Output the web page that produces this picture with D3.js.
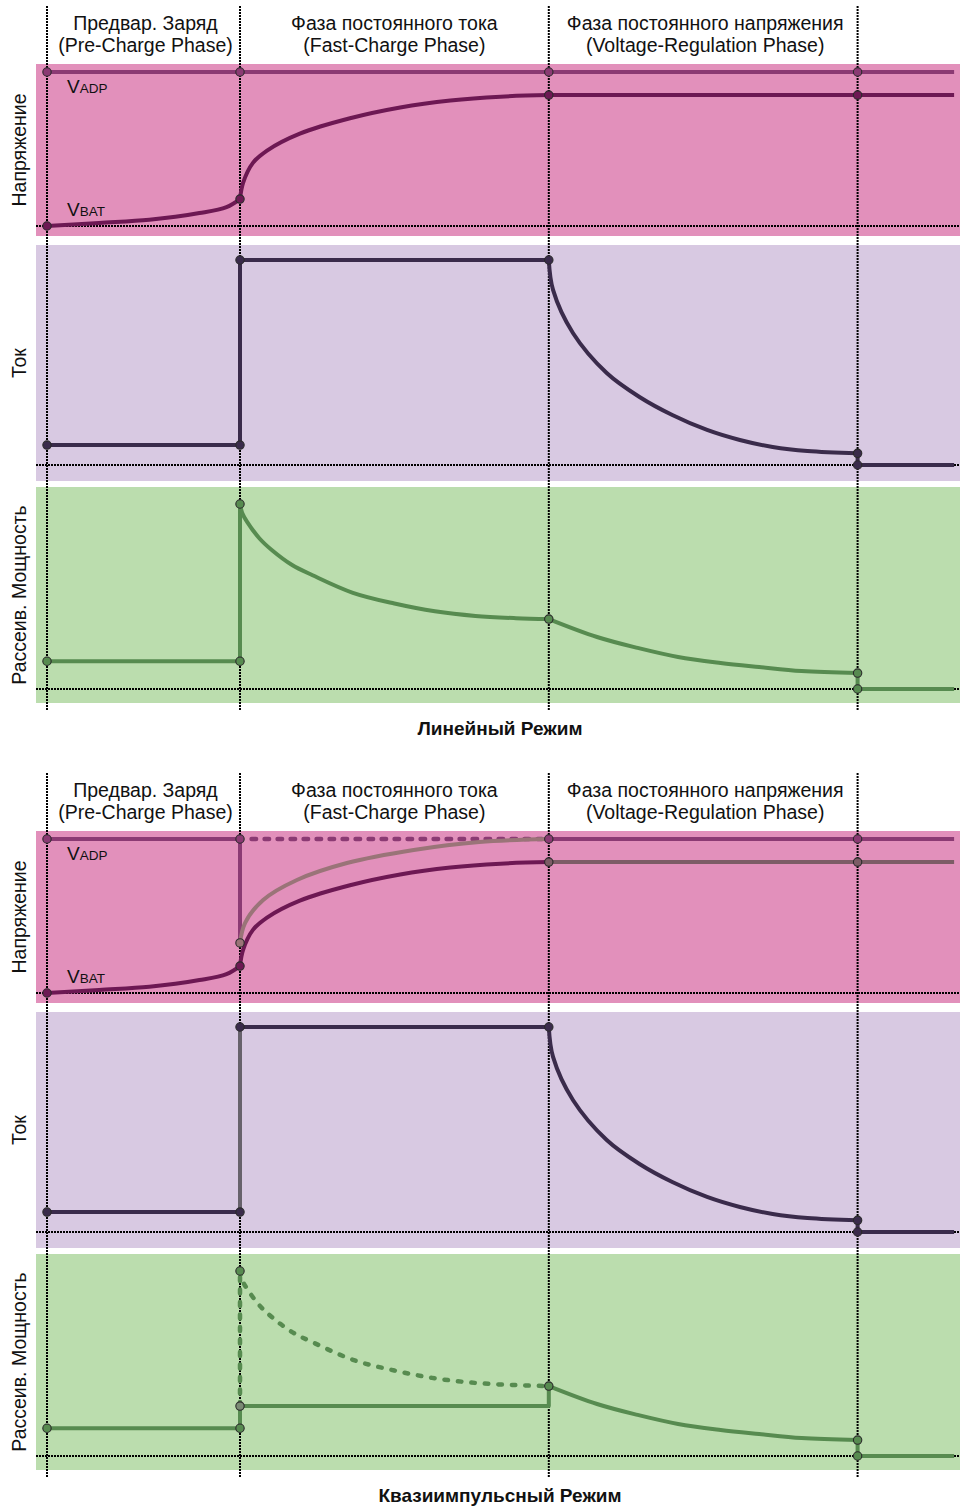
<!DOCTYPE html>
<html><head><meta charset="utf-8">
<script src="https://cdn.jsdelivr.net/npm/d3@7"></script>
<style>body{margin:0;background:#fff}svg{display:block;font-family:"Liberation Sans",Arial,sans-serif}</style>
</head><body>
<svg id="c" width="960" height="1508"></svg>
<script>
// ---------- DATA ----------
const phaseT = [0, 1, 2.6, 4.2];
const tEnd = 4.7;
const phaseTitles = [["Предвар. Заряд","(Pre-Charge Phase)"],["Фаза постоянного тока","(Fast-Charge Phase)"],["Фаза постоянного напряжения","(Voltage-Regulation Phase)"]];
const panelLabels = ["Напряжение","Ток","Рассеив. Мощность"];
const modeTitles = ["Линейный Режим","Квазиимпульсный Режим"];
// voltage (0 = baseline, 1 = VADP)
const vAdp = 1.0;
const vbatPre = [[0,0],[0.27,0.02],[0.53,0.04],[0.79,0.084],[0.93,0.123],[1,0.175]];
const vbatFast = [[1,0.175],[1.016,0.28],[1.067,0.41],[1.14,0.49],[1.31,0.6],[1.57,0.70],[1.83,0.77],[2.09,0.815],[2.35,0.84],[2.6,0.85]];
const vbatHold = 0.85;
const vSwitchCurve = [[1,0.325],[1.026,0.454],[1.12,0.604],[1.295,0.734],[1.554,0.844],[1.9,0.929],[2.24,0.981],[2.6,1.0]];
// current
const iPre = 0.097, iFast = 1.0, iEnd = 0.057;
const iDecay = [[2.6,1],[2.622,0.854],[2.725,0.644],[2.9,0.449],[3.07,0.332],[3.24,0.244],[3.42,0.171],[3.59,0.122],[3.76,0.088],[3.94,0.068],[4.2,0.057]];
// power
const pPre = 0.15, pPulse = 0.27;
const pDecayFast = [[1,1],[1.012,0.95],[1.036,0.905],[1.1,0.815],[1.166,0.75],[1.27,0.67],[1.376,0.615],[1.585,0.52],[1.8,0.462],[2.01,0.42],[2.22,0.395],[2.43,0.383],[2.6,0.378]];
const pDecayCV = [[2.6,0.378],[2.85,0.281],[3.06,0.222],[3.27,0.173],[3.49,0.141],[3.69,0.119],[3.91,0.097],[4.2,0.086]];

// ---------- STYLE ----------
const C = {pink:"#e290bb", lav:"#d8c9e2", green:"#bbddae", adp:"#8b3a73", bat:"#6d1853",
  cur:"#3a2b4b", pow:"#578b50", sw:"#9a7478", swHold:"#7d5c66", curGray:"#67626b"};
const LW = 4;
const svg = d3.select("#c");
const x = d3.scaleLinear().domain([0, 1]).range([47, 240]);
const line = d3.line().x(d=>x(d[0])).curve(d3.curveCatmullRom.alpha(0.5));

function drawChart(off, quasi){
  const yV = d3.scaleLinear().domain([0,1]).range([226+off, 72+off]);
  const yI = d3.scaleLinear().domain([0,1]).range([465+off, 260+off]);
  const yP = d3.scaleLinear().domain([0,1]).range([689+off, 504+off]);
  const g = svg.append("g");
  [[64,236,C.pink],[245,481,C.lav],[487,703,C.green]].forEach(b=>{
    g.append("rect").attr("x",36).attr("y",b[0]+off).attr("width",924).attr("height",b[1]-b[0]).attr("fill",b[2]);
  });
  [yV, yI, yP].forEach(s=>{
    g.append("line").attr("x1",36).attr("x2",960).attr("y1",s(0)).attr("y2",s(0))
      .attr("stroke","#000").attr("stroke-width",2).attr("stroke-dasharray","2 1");
  });
  phaseT.forEach(t=>{
    g.append("line").attr("x1",x(t)).attr("x2",x(t)).attr("y1",6+off).attr("y2",710+off)
      .attr("stroke","#000").attr("stroke-width",2).attr("stroke-dasharray","2 1");
  });
  phaseTitles.forEach((tt,i)=>{
    const cx = (x(phaseT[i])+x(phaseT[i+1]))/2 + (i===1?0:2);
    tt.forEach((s,j)=>g.append("text").attr("x",cx).attr("y",30+22*j+off).attr("text-anchor","middle")
      .attr("font-size",19.5).attr("fill","#111").text(s));
  });
  [150,363,595].forEach((c,i)=>{
    g.append("text").attr("transform",`translate(26,${c+off}) rotate(-90)`).attr("text-anchor","middle")
      .attr("font-size",19.5).attr("fill","#111").text(panelLabels[i]);
  });
  g.append("text").attr("x",500).attr("y",735+off).attr("text-anchor","middle").attr("font-size",19)
    .attr("font-weight","bold").attr("fill","#111").text(modeTitles[quasi?1:0]);
  [["ADP",93],["BAT",216]].forEach(l=>{
    const t = g.append("text").attr("x",67).attr("y",l[1]+off).attr("font-size",19).attr("fill","#111");
    t.append("tspan").text("V");
    t.append("tspan").attr("font-size",13.5).text(l[0]);
  });

  const path = (data, ys, color, dash) => g.append("path").attr("d", line.y(d=>ys(d[1]))(data))
    .attr("fill","none").attr("stroke",color).attr("stroke-width",dash?4.5:LW)
    .attr("stroke-linecap", dash ? "round" : "butt").attr("stroke-linejoin","round")
    .attr("stroke-dasharray", dash||null);
  const lin = d3.line().x(d=>x(d[0]));
  const poly = (data, ys, color, dash) => g.append("path").attr("d", lin.y(d=>ys(d[1]))(data))
    .attr("fill","none").attr("stroke",color).attr("stroke-width",dash?4.5:LW)
    .attr("stroke-linecap", dash ? "round":"butt").attr("stroke-linejoin","round").attr("stroke-dasharray",dash||null);
  const marks = [];
  const mk = (t,v,ys,color)=>marks.push([x(t),ys(v),color]);

  // ----- voltage -----
  if(!quasi){
    poly([[0,vAdp],[tEnd,vAdp]], yV, C.adp);
    path(vbatPre, yV, C.bat); path(vbatFast, yV, C.bat);
    poly([[2.6,vbatHold],[tEnd,vbatHold]], yV, C.bat);
    phaseT.forEach(t=>mk(t,vAdp,yV,C.adp));
    mk(0,0,yV,C.bat); mk(1,0.175,yV,C.bat); mk(2.6,vbatHold,yV,C.bat); mk(4.2,vbatHold,yV,C.bat);
  } else {
    poly([[0,vAdp],[1,vAdp]], yV, C.adp);
    poly([[1,vAdp],[1,0.325]], yV, C.adp);
    poly([[1.06,vAdp],[2.6,vAdp]], yV, C.adp, "4.5 8.5");
    poly([[2.6,vAdp],[tEnd,vAdp]], yV, C.adp);
    path(vSwitchCurve, yV, C.sw);
    path(vbatPre, yV, C.bat); path(vbatFast, yV, C.bat);
    poly([[2.6,vbatHold],[tEnd,vbatHold]], yV, C.swHold);
    mk(0,vAdp,yV,C.adp); mk(1,vAdp,yV,C.adp); mk(2.6,vAdp,yV,C.adp); mk(4.2,vAdp,yV,C.adp);
    mk(1,0.325,yV,C.sw);
    mk(0,0,yV,C.bat); mk(1,0.175,yV,C.bat); mk(2.6,vbatHold,yV,C.swHold); mk(4.2,vbatHold,yV,C.swHold);
  }
  // ----- current -----
  poly([[0,iPre],[1,iPre]], yI, C.cur);
  poly([[1,iPre],[1,iFast]], yI, quasi?C.curGray:C.cur);
  poly([[1,iFast],[2.6,iFast]], yI, C.cur);
  path(iDecay, yI, C.cur);
  poly([[4.2,iEnd],[4.2,0],[tEnd,0]], yI, C.cur);
  mk(0,iPre,yI,C.cur); mk(1,iPre,yI,C.cur); mk(1,iFast,yI,C.cur); mk(2.6,iFast,yI,C.cur);
  mk(4.2,iEnd,yI,C.cur); mk(4.2,0,yI,C.cur);
  // ----- power -----
  if(!quasi){
    poly([[0,pPre],[1,pPre],[1,1]], yP, C.pow);
    path(pDecayFast, yP, C.pow);
    mk(1,1,yP,C.pow);
  } else {
    poly([[1,pPulse],[1,1]], yP, C.pow, "4 8.5");
    path(pDecayFast, yP, C.pow, "3.5 10");
    poly([[0,pPre],[1,pPre],[1,pPulse],[2.6,pPulse],[2.6,0.378]], yP, C.pow);
    mk(1,1,yP,C.pow); mk(1,pPulse,yP,"#7a8a74");
  }
  path(pDecayCV, yP, C.pow);
  poly([[4.2,0.086],[4.2,0],[tEnd,0]], yP, C.pow);
  mk(0,pPre,yP,C.pow); mk(1,pPre,yP,C.pow); mk(2.6,0.378,yP,C.pow); mk(4.2,0.086,yP,C.pow); mk(4.2,0,yP,C.pow);

  g.selectAll("circle.m").data(marks).join("circle").attr("class","m")
    .attr("cx",d=>d[0]).attr("cy",d=>d[1]).attr("r",4.2)
    .attr("fill",d=>d[2]).attr("stroke","#2a2a2a").attr("stroke-width",1.1);
}
drawChart(0,false);
drawChart(767,true);
</script>
</body></html>
